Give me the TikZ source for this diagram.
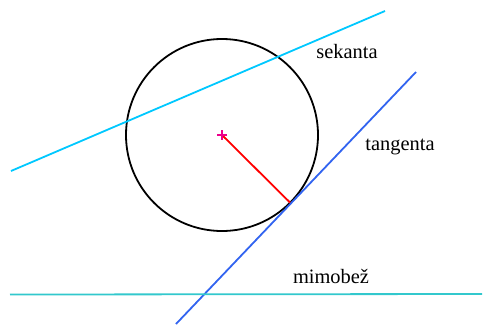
\documentclass[tikz,border=0pt]{standalone}
\usepackage{fontspec}
\setmainfont{Liberation Serif}
\definecolor{seccol}{RGB}{0,200,255}
\definecolor{tancol}{RGB}{50,100,240}
\definecolor{mimcol}{RGB}{50,200,205}
\begin{document}
\begin{tikzpicture}[x=1bp,y=-1bp,
  lbl/.style={anchor=base,inner sep=0pt,font=\fontsize{20.5}{24}\selectfont},
  ln/.style={line width=1.8bp}]
\useasboundingbox (0,0) rectangle (483,324);
\coordinate (S) at (222,135);
\node[draw=black,line width=1.8bp,circle,minimum size=192bp,inner sep=0pt] (c) at (S) {};
\coordinate (a1) at (11,171);
\coordinate (a2) at (385,11);
\draw[ln,seccol] (a1) -- (a2);
\coordinate (b1) at (176,324);
\coordinate (b2) at (416,72);
\draw[ln,tancol] (b1) -- (b2);
\coordinate (d1) at (10,294.5);
\coordinate (d2) at (482,294);
\draw[ln,mimcol] (d1) -- (d2);
\coordinate (T) at (290,202.5);
\draw[ln,red] (S) -- (T);
\draw[line width=2.5bp,magenta] (217,135) -- (227,135) (222,130) -- (222,140);
\node[lbl] (ls) at (347,58) {sekanta};
\node[lbl] (lt) at (400,150) {tangenta};
\node[lbl] (lm) at (331,283) {mimobež};
\end{tikzpicture}
\end{document}
